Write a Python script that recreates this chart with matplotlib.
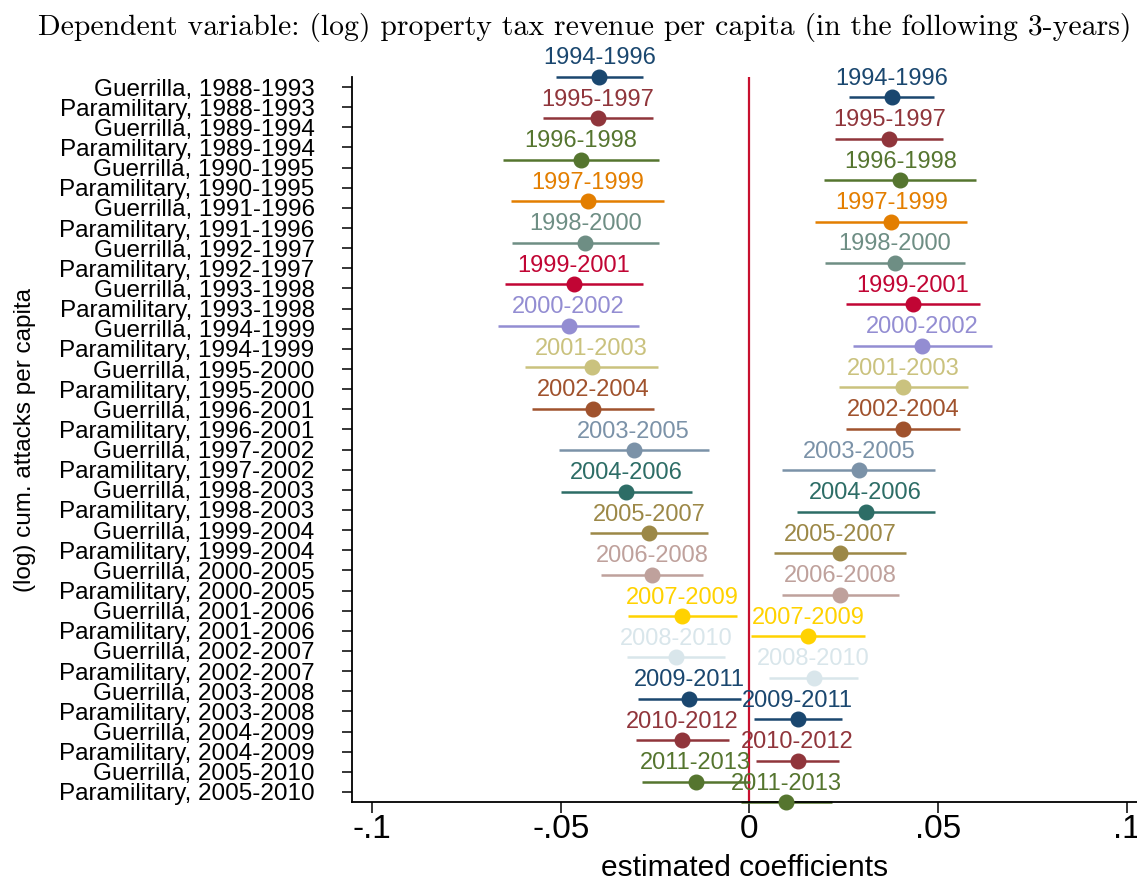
import numpy as np
import matplotlib
matplotlib.use("Agg")
import matplotlib.pyplot as plt

# row labels on the y axis (top to bottom)
windows = [f"{y}-{y + 5}" for y in range(1988, 2006)]
ylabels = []
for w in windows:
    ylabels.append("Guerrilla, " + w)
    ylabels.append("Paramilitary, " + w)

# outcome periods (one per estimate pair)
periods = ["1994-1996", "1995-1997", "1996-1998", "1997-1999", "1998-2000",
           "1999-2001", "2000-2002", "2001-2003", "2002-2004", "2003-2005",
           "2004-2006", "2005-2007", "2006-2008", "2007-2009", "2008-2010",
           "2009-2011", "2010-2012", "2011-2013"]

# Guerrilla coefficients and 95% CI
g_coef = [-0.0398, -0.0402, -0.0446, -0.0429, -0.0435, -0.0466, -0.0479, -0.0418, -0.0415,
          -0.0307, -0.0326, -0.0266, -0.0258, -0.0178, -0.0195, -0.0159, -0.0178, -0.0142]
g_lo = [-0.0513, -0.0546, -0.0652, -0.0632, -0.0630, -0.0647, -0.0665, -0.0594, -0.0576,
        -0.0504, -0.0499, -0.0422, -0.0393, -0.0321, -0.0325, -0.0294, -0.0300, -0.0285]
g_hi = [-0.0283, -0.0256, -0.0239, -0.0225, -0.0239, -0.0283, -0.0292, -0.0241, -0.0252,
        -0.0108, -0.0153, -0.0111, -0.0122, -0.0034, -0.0064, -0.0022, -0.0053, 0.0001]

# Paramilitary coefficients and 95% CI
p_coef = [0.0378, 0.0371, 0.0400, 0.0376, 0.0385, 0.0433, 0.0458, 0.0408, 0.0407,
          0.0290, 0.0308, 0.0241, 0.0241, 0.0156, 0.0170, 0.0128, 0.0128, 0.0098]
p_lo = [0.0265, 0.0227, 0.0197, 0.0175, 0.0201, 0.0256, 0.0274, 0.0237, 0.0255,
        0.0087, 0.0126, 0.0066, 0.0086, 0.0005, 0.0051, 0.0012, 0.0018, -0.0022]
p_hi = [0.0490, 0.0514, 0.0601, 0.0576, 0.0571, 0.0610, 0.0643, 0.0580, 0.0559,
        0.0493, 0.0491, 0.0416, 0.0396, 0.0306, 0.0288, 0.0245, 0.0237, 0.0218]

palette = ["#1a476f", "#90353b", "#55752f", "#e37e00", "#6e8e84", "#c10534",
           "#938dd2", "#cac27e", "#a0522d", "#7b92a8", "#2d6d66", "#9c8847",
           "#bfa19c", "#ffd200", "#d9e6eb"]

plt.rcParams["font.family"] = ["Liberation Sans", "DejaVu Sans"]

fig = plt.figure(figsize=(11.37, 8.81), dpi=100)
ax = fig.add_axes([352 / 1137, 1 - 802 / 881, (1137 - 352) / 1137, (802 - 77) / 881])

n = len(periods)
step = 35 / (n - 1)
ax.axvline(0, color="#c8102e", lw=1.6, zorder=1)

for k in range(n):
    c = palette[k % len(palette)]
    for coef, lo, hi, off in [(g_coef[k], g_lo[k], g_hi[k], -0.5),
                              (p_coef[k], p_lo[k], p_hi[k], 0.5)]:
        y = off + k * step
        ax.plot([lo, hi], [y, y], color=c, lw=1.8, solid_capstyle="butt", zorder=2, clip_on=False)
        ax.plot(coef, y, "o", color=c, ms=10.5, zorder=3, clip_on=False)
        ax.annotate(periods[k], (coef, y), xytext=(0, 9), textcoords="offset points",
                    ha="center", va="baseline", color=c, fontsize=17, annotation_clip=False)

ax.set_xlim(-0.1053, 0.1027)
ax.set_ylim(35.5, -0.5)
ax.set_yticks(range(len(ylabels)))
ax.set_yticklabels(ylabels, fontsize=17.5)
ax.set_xticks([-0.1, -0.05, 0, 0.05, 0.1])
ax.set_xticklabels(["-.1", "-.05", "0", ".05", ".1"], fontsize=24)
ax.tick_params(axis="y", length=7, width=1.1, pad=20)
ax.tick_params(axis="x", length=8, width=1.1, pad=1)
for s in ["top", "right"]:
    ax.spines[s].set_visible(False)
for s in ["left", "bottom"]:
    ax.spines[s].set_linewidth(1.3)
ax.set_xlabel("estimated coefficients", fontsize=21.5, labelpad=6)

fig.text(25 / 1137, 1 - 440 / 881, "(log) cum. attacks per capita", rotation=90,
         ha="center", va="center", fontsize=17.5)
fig.text(585 / 1137, 1 - 28 / 881,
         "Dependent variable: (log) property tax revenue per capita (in the following 3-years)",
         family="cmr10", ha="center", va="center", fontsize=21.4)

fig.savefig("out.png", dpi=100)
